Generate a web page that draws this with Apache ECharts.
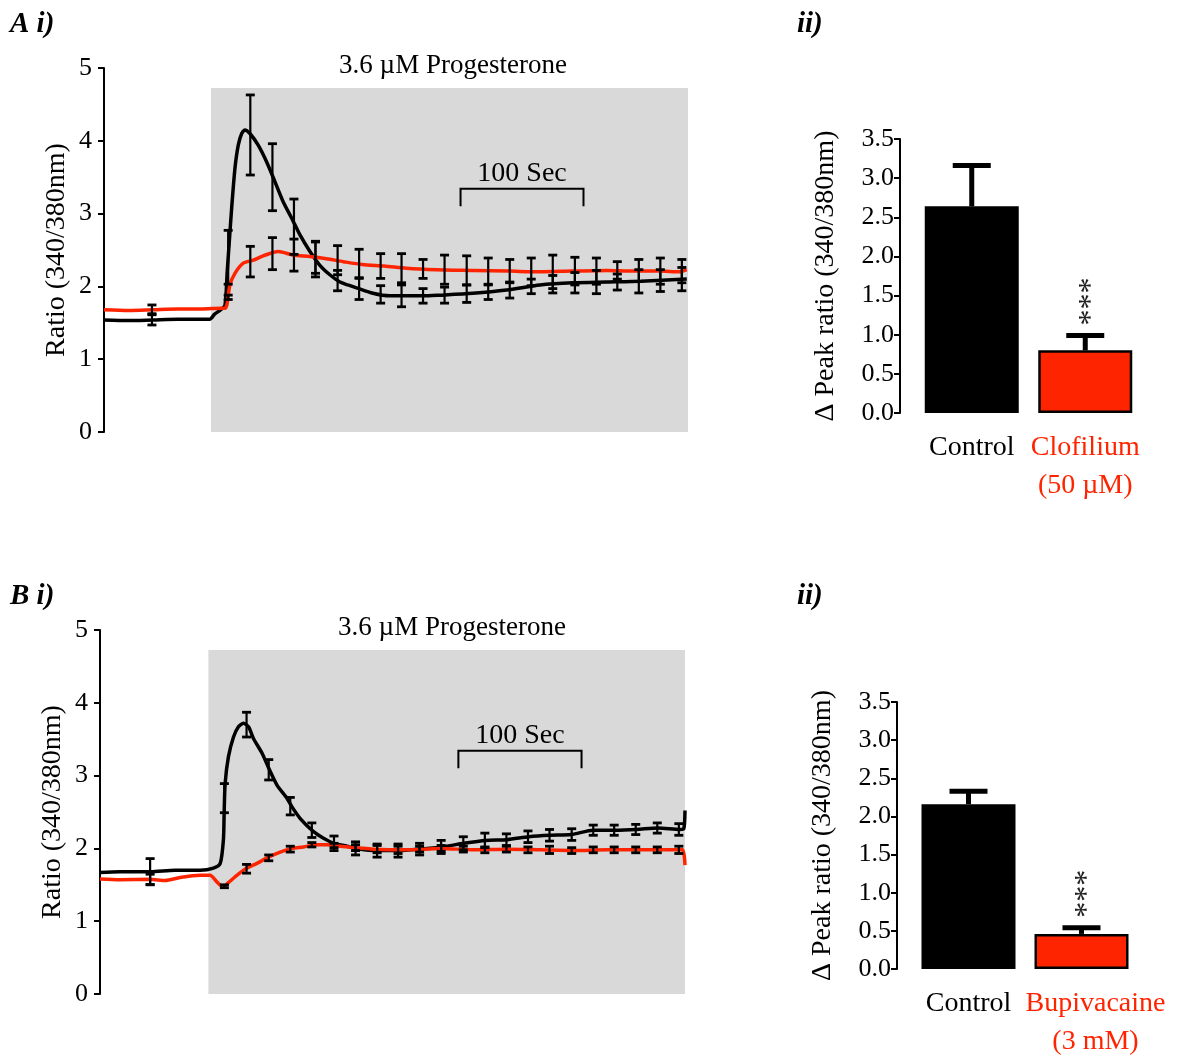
<!DOCTYPE html>
<html><head><meta charset="utf-8">
<script src="https://cdn.jsdelivr.net/npm/echarts@6/dist/echarts.min.js"></script>
<style>html,body{margin:0;padding:0;background:#fff}#c{width:1186px;height:1061px}</style>
</head><body><div id="c"></div>
<script>
// ---------- Panel A i) : time (s) / ratio ----------
const aBlackT = [0,20,40,60,80,86,90,95,98.4,100.2,101.9,103.8,106.5,109.2,112,114.6,118.7,125.4,132.3,139,145.8,152.6,159.3,167.5,175.6,183.7,191.9,198.4,205.4,218.7,232.5,259.3,273.2,300,327.6,354.5,381.3,409,436.7,474];
const aBlackV = [1.54,1.53,1.54,1.55,1.55,1.55,1.62,1.68,1.74,2.2,2.61,3.07,3.62,3.94,4.10,4.15,4.10,3.94,3.71,3.44,3.16,2.94,2.71,2.48,2.29,2.16,2.06,2.02,1.98,1.905,1.87,1.87,1.88,1.905,1.95,2.02,2.05,2.06,2.07,2.10];
const aRedT = [0,20,40,60,80,95,98.4,100,102.4,106.5,113.3,121.4,129.5,141.7,153.9,167.5,181,194.6,210,228,246,270,300,330,354.5,380,409,430,452,468,474];
const aRedV = [1.68,1.67,1.68,1.69,1.69,1.7,1.7,1.75,2.02,2.18,2.32,2.36,2.42,2.48,2.43,2.41,2.38,2.34,2.3,2.28,2.25,2.23,2.22,2.21,2.2,2.21,2.22,2.21,2.21,2.2,2.23];
const errT = [101,119,137,154.5,172,190,207.5,225,242,259.5,277,295,312.5,330,347.5,365,383,400.5,417.5,435,452.5,470];
const aErrT = [39].concat(errT);
const aBlackErrM = [1.54,2.4,4.08,3.5,2.82,2.37,2.08,1.97,1.89,1.87,1.87,1.88,1.9,1.92,1.95,2.0,2.03,2.05,2.06,2.06,2.07,2.08,2.1];
const aBlackErrS = [0.07,0.37,0.55,0.46,0.38,0.24,0.14,0.15,0.12,0.15,0.1,0.11,0.12,0.1,0.11,0.1,0.12,0.14,0.16,0.11,0.16,0.15,0.16];
const aRedErrM = [1.685,1.85,2.34,2.45,2.43,2.4,2.36,2.31,2.28,2.25,2.24,2.23,2.22,2.21,2.21,2.2,2.2,2.21,2.21,2.22,2.22,2.21,2.21];
const aRedErrS = [0.06,0.03,0.21,0.22,0.22,0.22,0.2,0.2,0.17,0.2,0.13,0.2,0.2,0.18,0.16,0.19,0.23,0.19,0.18,0.12,0.15,0.18,0.16];
const aProgesterone = [87, 475];
const aScaleBar = [290, 390];

// ---------- Panel B i) ----------
const bBlackT = [0,16,40.7,61,81.3,92.1,97.6,100.2,100.8,101.6,104.3,108.4,112.4,116.5,120.6,124.6,131.5,137.6,143.7,151.8,155.9,162.6,173.4,181.5,189.7,200.6,207.3,225.4,242.5,260.2,277.8,295.4,313,330.6,348.2,365.3,382.7,400.6,418.1,435.8,453.1,471,474,475];
const bBlackV = [1.67,1.68,1.68,1.70,1.70,1.73,1.795,2.12,2.48,2.89,3.26,3.53,3.67,3.72,3.67,3.51,3.31,3.08,2.87,2.69,2.57,2.41,2.23,2.14,2.07,2.03,2.0,1.97,1.97,1.99,2.02,2.07,2.11,2.12,2.16,2.18,2.19,2.25,2.25,2.26,2.28,2.26,2.27,2.52];
const bRedT = [0,16,40.7,53,65,81.3,89.4,94.9,100.2,104.3,111.1,119.3,127.4,136.8,146.3,155.9,165.3,174.8,184.3,195.1,222,249.3,276.4,303.3,330.6,357.7,384.6,412,439,466,473,475];
const bRedV = [1.58,1.57,1.575,1.56,1.6,1.63,1.63,1.54,1.47,1.53,1.63,1.73,1.795,1.88,1.95,2.0,2.02,2.05,2.05,2.03,1.99,1.98,2.0,1.98,1.99,1.98,1.97,1.98,1.98,1.98,1.98,1.77];
const bErrT = [40.7].concat(errT);
const bBlackErrM = [1.68,2.69,3.7,3.08,2.58,2.25,2.07,2.0,1.97,1.97,1.99,2.02,2.07,2.11,2.12,2.16,2.18,2.19,2.25,2.25,2.26,2.28,2.26];
const bBlackErrS = [0.18,0.2,0.17,0.14,0.12,0.1,0.1,0.09,0.09,0.09,0.08,0.09,0.09,0.1,0.08,0.08,0.08,0.08,0.07,0.07,0.07,0.07,0.08];
const bRedErrM = [1.575,1.48,1.72,1.87,1.99,2.05,2.04,2.01,1.99,1.98,1.99,2.0,1.99,1.98,1.99,1.98,1.98,1.97,1.98,1.98,1.98,1.98,1.98];
const bRedErrS = [0.07,0.02,0.06,0.04,0.04,0.03,0.03,0.04,0.05,0.05,0.04,0.04,0.04,0.04,0.04,0.04,0.05,0.04,0.04,0.04,0.04,0.04,0.05];
const bProgesterone = [88, 475];
const bScaleBar = [291, 391];

// ---------- Bar panels ----------
const barCatsA = ['Control', 'Clofilium\n(50 µM)'];
const barMeanA = [2.64, 0.80];
const barSemA = [0.52, 0.19];
const sigA = ['', '***'];
const barCatsB = ['Control', 'Bupivacaine\n(3 mM)'];
const barMeanB = [2.16, 0.46];
const barSemB = [0.17, 0.08];
const sigB = ['', '***'];

// ---------- styling ----------
const FONT = '"Liberation Serif", "DejaVu Serif", serif';
const RED = '#ff2400';
const barColors = ['#000000', RED];
const labelColors = ['#000000', RED];

const zip = (a, b) => a.map((v, i) => [v, b[i]]);
const zip3 = (a, b, c) => a.map((v, i) => [v, b[i], c[i]]);

function shadeRender(p, api) {
  const a = api.coord([api.value(0), api.value(3)]);
  const b = api.coord([api.value(1), api.value(2)]);
  return {type: 'rect', shape: {x: a[0], y: a[1], width: b[0] - a[0], height: b[1] - a[1]}, style: {fill: '#d9d9d9'}};
}
function errRender(p, api) {
  const x = api.value(0), m = api.value(1), s = api.value(2);
  const t = api.coord([x, m + s]), b = api.coord([x, m - s]);
  const hw = 4.5, st = {stroke: '#000', lineWidth: 2.2};
  return {type: 'group', children: [
    {type: 'line', shape: {x1: t[0], y1: t[1], x2: b[0], y2: b[1]}, style: st},
    {type: 'line', shape: {x1: t[0] - hw, y1: t[1], x2: t[0] + hw, y2: t[1]}, style: {stroke: '#000', lineWidth: 2.8}},
    {type: 'line', shape: {x1: b[0] - hw, y1: b[1], x2: b[0] + hw, y2: b[1]}, style: {stroke: '#000', lineWidth: 2.8}}
  ]};
}
function scaleRender(p, api) {
  const x0 = api.value(0), x1 = api.value(1), y = api.value(2), yb = api.value(3);
  const a = api.coord([x0, y]), b = api.coord([x1, y]);
  const a2 = api.coord([x0, yb]), b2 = api.coord([x1, yb]);
  return {type: 'group', children: [
    {type: 'polyline', shape: {points: [[a2[0], a2[1]], [a[0], a[1]], [b[0], b[1]], [b2[0], b2[1]]]}, style: {stroke: '#000', lineWidth: 2, fill: null}},
    {type: 'text', x: (a[0] + b[0]) / 2, y: a[1] - 1, style: {text: '100 Sec', fontSize: 28, fontFamily: FONT, fill: '#000', align: 'center', verticalAlign: 'bottom'}}
  ]};
}
function barErrRender(sig) {
  return function (p, api) {
    const i = api.value(0), m = api.value(1), s = api.value(2);
    const base = api.coord([i, m]), top = api.coord([i, m + s]);
    const ch = [
      {type: 'rect', shape: {x: top[0] - 2.5, y: top[1], width: 5, height: base[1] - top[1]}, style: {fill: '#000'}},
      {type: 'rect', shape: {x: top[0] - 19, y: top[1] - 2.5, width: 38, height: 5}, style: {fill: '#000'}}
    ];
    if (sig[p.dataIndex]) {
      ch.push({type: 'text', x: top[0] + 6, y: top[1] - 34, rotation: Math.PI / 2,
        style: {text: sig[p.dataIndex], fontSize: 32, fontFamily: FONT, fill: '#222', align: 'center', verticalAlign: 'middle'}});
    }
    return {type: 'group', children: ch};
  };
}

function lineYAxis(grid) {
  return {gridIndex: grid, type: 'value', min: 0, max: 5, interval: 1,
    name: 'Ratio (340/380nm)', nameLocation: 'middle', nameGap: 33, nameRotate: 90,
    nameTextStyle: {fontSize: 28, fontFamily: FONT, color: '#000'},
    axisLine: {show: true, lineStyle: {color: '#000', width: 2}},
    axisTick: {show: true, length: 6, lineStyle: {color: '#000', width: 2}},
    axisLabel: {fontSize: 26, fontFamily: FONT, color: '#000', margin: 12},
    splitLine: {show: false}};
}
function barYAxis(grid) {
  return {gridIndex: grid, type: 'value', min: 0, max: 3.5, interval: 0.5, offset: 15,
    name: 'Δ Peak ratio (340/380nm)', nameLocation: 'middle', nameGap: 60, nameRotate: 90,
    nameTextStyle: {fontSize: 28, fontFamily: FONT, color: '#000'},
    axisLine: {show: true, lineStyle: {color: '#000', width: 2}},
    axisTick: {show: true, length: 6, lineStyle: {color: '#000', width: 2}},
    axisLabel: {fontSize: 26, fontFamily: FONT, color: '#000', margin: 6, formatter: v => v.toFixed(1)},
    splitLine: {show: false}};
}
function barXAxis(grid, cats, shift) {
  return {gridIndex: grid, type: 'category',
    data: cats.map((c, i) => ({value: c, textStyle: {color: labelColors[i], padding: [0, 0, 0, shift[i]]}})),
    axisLine: {show: false}, axisTick: {show: false},
    axisLabel: {interval: 0, fontSize: 28, fontFamily: FONT, lineHeight: 38, margin: 16}};
}

const lineSeries = (xi, t, v, color, z) => ({type: 'line', xAxisIndex: xi, yAxisIndex: xi, data: zip(t, v),
  showSymbol: false, smooth: 0.25, lineStyle: {color: color, width: 3.5}, z: z, silent: true});
const errSeries = (xi, t, m, s) => ({type: 'custom', xAxisIndex: xi, yAxisIndex: xi, data: zip3(t, m, s),
  renderItem: errRender, z: 5, silent: true});

const option = {
  animation: false,
  backgroundColor: '#fff',
  grid: [
    {left: 104, top: 68, width: 584, height: 364},
    {left: 915, top: 139, width: 227, height: 274},
    {left: 100, top: 630, width: 585, height: 364},
    {left: 912, top: 702, width: 226, height: 273}
  ],
  xAxis: [
    {gridIndex: 0, type: 'value', min: 0, max: 475, show: false},
    barXAxis(1, barCatsA, [0, 0]),
    {gridIndex: 2, type: 'value', min: 0, max: 475, show: false},
    barXAxis(3, barCatsB, [0, 28])
  ],
  yAxis: [lineYAxis(0), barYAxis(1), lineYAxis(2), barYAxis(3)],
  series: [
    {type: 'custom', xAxisIndex: 0, yAxisIndex: 0, data: [[aProgesterone[0], aProgesterone[1], 0, 4.725]], renderItem: shadeRender, z: 1, silent: true},
    lineSeries(0, aBlackT, aBlackV, '#000', 3),
    lineSeries(0, aRedT, aRedV, RED, 4),
    errSeries(0, aErrT, aBlackErrM, aBlackErrS),
    errSeries(0, aErrT, aRedErrM, aRedErrS),
    {type: 'custom', xAxisIndex: 0, yAxisIndex: 0, data: [[aScaleBar[0], aScaleBar[1], 3.34, 3.10]], renderItem: scaleRender, z: 6, silent: true},

    {type: 'custom', xAxisIndex: 2, yAxisIndex: 2, data: [[bProgesterone[0], bProgesterone[1], 0, 4.725]], renderItem: shadeRender, z: 1, silent: true},
    lineSeries(2, bBlackT, bBlackV, '#000', 3),
    lineSeries(2, bRedT, bRedV, RED, 4),
    errSeries(2, bErrT, bBlackErrM, bBlackErrS),
    errSeries(2, bErrT, bRedErrM, bRedErrS),
    {type: 'custom', xAxisIndex: 2, yAxisIndex: 2, data: [[bScaleBar[0], bScaleBar[1], 3.34, 3.10]], renderItem: scaleRender, z: 6, silent: true},

    {type: 'bar', xAxisIndex: 1, yAxisIndex: 1, barWidth: 94, silent: true,
      data: barMeanA.map((v, i) => ({value: v, itemStyle: {color: barColors[i], borderColor: '#000', borderWidth: 2.5}}))},
    {type: 'custom', xAxisIndex: 1, yAxisIndex: 1, data: zip3([0, 1], barMeanA, barSemA), renderItem: barErrRender(sigA), z: 5, silent: true},
    {type: 'bar', xAxisIndex: 3, yAxisIndex: 3, barWidth: 94, silent: true,
      data: barMeanB.map((v, i) => ({value: v, itemStyle: {color: barColors[i], borderColor: '#000', borderWidth: 2.5}}))},
    {type: 'custom', xAxisIndex: 3, yAxisIndex: 3, data: zip3([0, 1], barMeanB, barSemB), renderItem: barErrRender(sigB), z: 5, silent: true}
  ],
  graphic: [
    {type: 'text', x: 10, y: 25, style: {text: 'A i)', fontSize: 29, fontWeight: 'bold', fontStyle: 'italic', fontFamily: FONT, fill: '#000', align: 'left', verticalAlign: 'middle'}},
    {type: 'text', x: 797, y: 25, style: {text: 'ii)', fontSize: 29, fontWeight: 'bold', fontStyle: 'italic', fontFamily: FONT, fill: '#000', align: 'left', verticalAlign: 'middle'}},
    {type: 'text', x: 10, y: 597, style: {text: 'B i)', fontSize: 29, fontWeight: 'bold', fontStyle: 'italic', fontFamily: FONT, fill: '#000', align: 'left', verticalAlign: 'middle'}},
    {type: 'text', x: 797, y: 597, style: {text: 'ii)', fontSize: 29, fontWeight: 'bold', fontStyle: 'italic', fontFamily: FONT, fill: '#000', align: 'left', verticalAlign: 'middle'}},
    {type: 'text', x: 453, y: 66, style: {text: '3.6 µM Progesterone', fontSize: 27, fontFamily: FONT, fill: '#000', align: 'center', verticalAlign: 'middle'}},
    {type: 'text', x: 452, y: 628, style: {text: '3.6 µM Progesterone', fontSize: 27, fontFamily: FONT, fill: '#000', align: 'center', verticalAlign: 'middle'}}
  ]
};
const chart = echarts.init(document.getElementById('c'), null, {renderer: 'canvas'});
chart.setOption(option);
</script>
</body></html>
